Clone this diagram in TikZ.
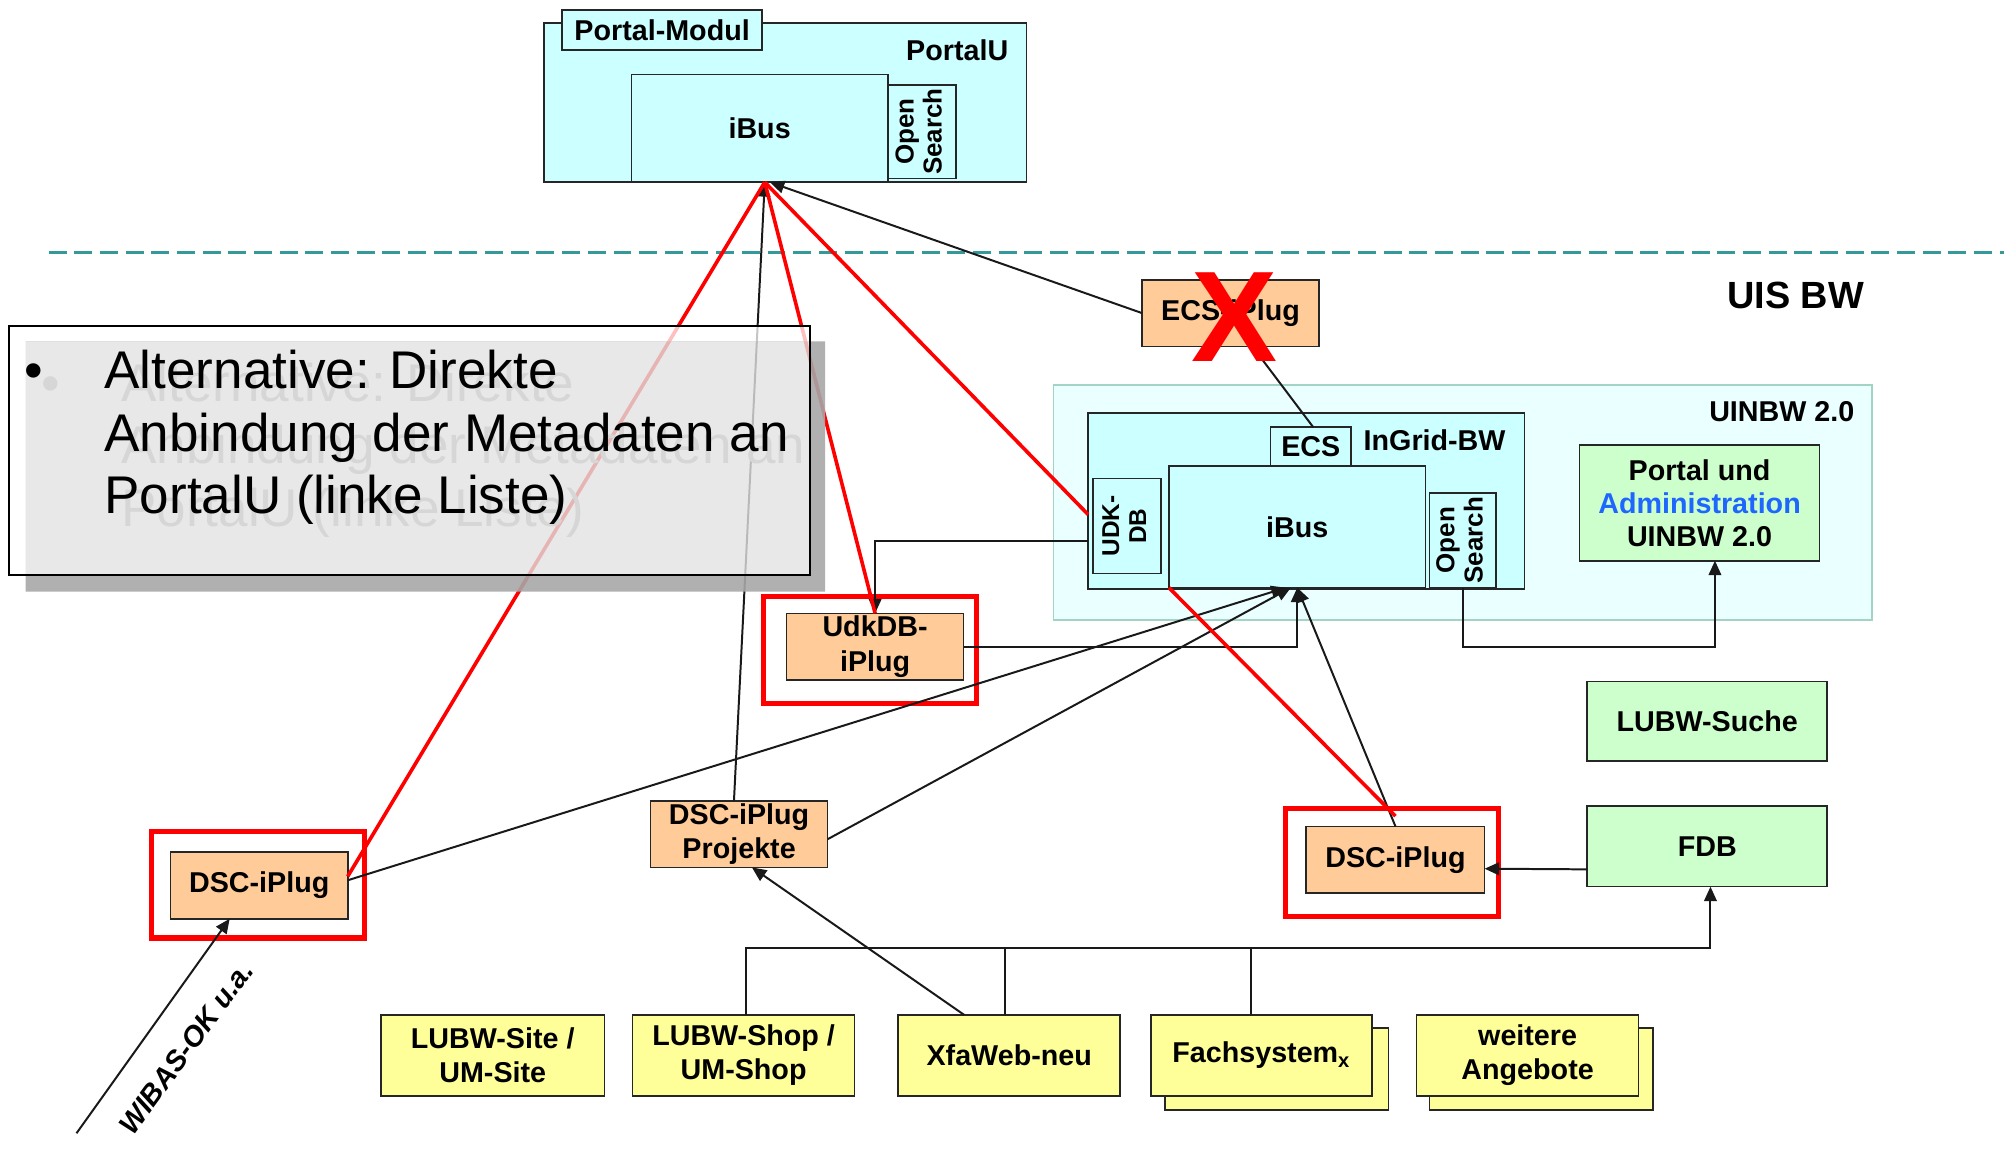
\documentclass[tikz,border=0pt]{standalone}
\usepackage{fontspec}
\setmainfont{Liberation Sans}
\usepackage{graphicx}
\usetikzlibrary{arrows.meta,calc}
\definecolor{cy}{HTML}{CCFFFF}
\definecolor{cyl}{HTML}{EAFFFF}
\definecolor{cyb}{HTML}{A3D3C3}
\definecolor{org}{HTML}{FFCC99}
\definecolor{grn}{HTML}{CCFFCC}
\definecolor{yel}{HTML}{FFFF99}
\definecolor{sepcol}{HTML}{339999}
\definecolor{admblue}{HTML}{1F66FF}
\definecolor{cgray}{HTML}{E2E2E2}
\definecolor{cdark}{HTML}{A7A7A7}
\definecolor{ghost}{HTML}{D6D6D6}
\newcommand\drawbox[7]{\node[#6, minimum width={(#4-#2)*0.025cm}, minimum height={(#5-#3)*0.025cm}] (#1) at ({(#2+#4)/2},{(#3+#5)/2}) {#7};}
\newcommand\vtext[3]{\rotatebox{90}{\fontsize{#1}{#2}\selectfont\begin{tabular}{@{}c@{}}#3\end{tabular}}}
\tikzset{
  boxbase/.style={draw=black!85, line width=0.9pt, inner sep=0pt, outer sep=0pt, align=center, font=\fontsize{15.9}{19}\selectfont\bfseries},
  cyanbox/.style={boxbase, fill=cy},
  orgbox/.style={boxbase, fill=org},
  grnbox/.style={boxbase, fill=grn},
  yelbox/.style={boxbase, fill=yel},
  outerbox/.style={draw=cyb, fill=cyl, line width=1pt, inner sep=0pt, outer sep=0pt},
  redframe/.style={draw=red, line width=2.8pt, inner sep=0pt, outer sep=0pt},
  conn/.style={draw=black!90, line width=1.1pt},
  arr/.style={conn, -{Triangle[length=8pt,width=7pt]}},
  redline/.style={draw=red, line width=2pt},
  sepline/.style={draw=sepcol, line width=1.8pt, dash pattern=on 0.35cm off 0.15cm},
  lbl/.style={inner sep=0pt, outer sep=0pt, font=\fontsize{15.9}{19}\selectfont\bfseries},
  ctext/.style={inner sep=0pt, outer sep=0pt, anchor=base west, font=\fontsize{29.4}{35}\selectfont},
  shx/.style={xshift={(#1)*0.025cm}},
  shy/.style={yshift={-(#1)*0.025cm}},
}
\begin{document}
\begin{tikzpicture}[x=0.025cm,y=-0.025cm]
\useasboundingbox (0,0) rectangle (1568,902);

% separator
\coordinate (dL) at (38,196.5);
\coordinate (dR) at (1562,196.5);
\draw[sepline] (dL) -- (dR);
\node[lbl, font=\fontsize{21}{25}\selectfont\bfseries] (uis) at (1399.4,230) {UIS BW};

% PortalU
\drawbox{portalu}{424}{18}{800}{142}{cyanbox}{}
\drawbox{modul}{438}{8}{594}{39}{cyanbox}{Portal-Modul}
\node[lbl] (portalulbl) at (746,39.5) {PortalU};
\drawbox{pib}{492}{58}{692}{142}{cyanbox}{iBus}
\drawbox{pos}{692}{66}{745}{139}{cyanbox}{\vtext{14.4}{15.6}{Open\\Search}}

% UINBW 2.0
\drawbox{uinbw}{821}{300}{1459}{483}{outerbox}{}
\node[lbl] (uinbwlbl) at (1388.6,321) {UINBW 2.0};
\drawbox{ingrid}{848}{322}{1188}{459}{cyanbox}{}
\node[lbl] (ingridlbl) at (1118,343) {InGrid-BW};
\drawbox{ecs}{990}{333}{1053}{363}{cyanbox}{ECS}
\drawbox{ib2}{911}{363}{1111}{458}{cyanbox}{iBus}
\drawbox{udkdb}{852}{373}{905}{447}{cyanbox}{\vtext{13.5}{14.9}{UDK-\\DB}}
\drawbox{os2}{1114}{384}{1166}{458}{cyanbox}{\vtext{14.4}{15.6}{Open\\Search}}
\drawbox{adm}{1231}{347}{1418}{437}{grnbox, font=\fontsize{15.9}{18.4}\selectfont\bfseries}{Portal und\\\textcolor{admblue}{Administration}\\UINBW 2.0}

% plugs
\drawbox{ecsp}{890}{218}{1028}{270}{orgbox}{ECS-iPlug}
\drawbox{udk}{613}{478}{751}{530}{orgbox}{UdkDB-\\iPlug}
\drawbox{udkf}{595}{465}{761}{548}{redframe}{}
\drawbox{proj}{507}{624}{645}{676}{orgbox}{DSC-iPlug\\Projekte}
\drawbox{dscl}{133}{664}{271}{716}{orgbox}{DSC-iPlug}
\drawbox{dsclf}{118}{648}{284}{731}{redframe}{}
\drawbox{dscr}{1018}{644}{1157}{696}{orgbox}{DSC-iPlug}
\drawbox{dscrf}{1002}{630}{1168}{714}{redframe}{}

% green
\drawbox{suche}{1237}{531}{1424}{593}{grnbox}{LUBW-Suche}
\drawbox{fdb}{1237}{628}{1424}{691}{grnbox}{FDB}

% yellow
\drawbox{lsite}{297}{791}{471}{854}{yelbox}{LUBW-Site /\\UM-Site}
\drawbox{lshop}{493}{791}{666}{854}{yelbox}{LUBW-Shop /\\UM-Shop}
\drawbox{xfa}{700}{791}{873}{854}{yelbox}{XfaWeb-neu}
\drawbox{fachs}{908}{801}{1082}{865}{yelbox}{}
\drawbox{fach}{897}{791}{1069}{854}{yelbox}{Fachsystem\textsubscript{x}}
\drawbox{weis}{1114}{801}{1288}{865}{yelbox}{}
\drawbox{wei}{1104}{791}{1277}{854}{yelbox}{weitere\\Angebote}

% connectors to PortalU iBus
\draw[arr] ([shx=-4]proj.north) -- ([shx=4]pib.south);
\draw[arr] (ecsp.west) -- ([shx=8]pib.south);
\draw[conn] ([shx=17]ecsp.south) -- ([shx=2]ecs.north);

% connectors to InGrid iBus
\draw[arr] ([shy=-4]dscl.east) -- ([shx=-9]ib2.south);
\draw[arr] ([shy=4]proj.east) -- ([shx=-5]ib2.south);
\draw[arr] (udk.east) -| (ib2.south);
\draw[arr] (dscr.north) -- (ib2.south);
\draw[arr] ([shy=31]ingrid.west) -| (udk.north);
\draw[arr] (os2.south) -- (os2.south |- udk.east) -| ([shx=12]adm.south);
\draw[arr] ([shy=18]fdb.west) -- ([shy=7]dscr.east);

% bus
\coordinate (bus) at (0,739);
\draw[arr] ([shx=2]lshop.north) -- ([shx=2]lshop.north |- bus) -| ([shx=2.5]fdb.south);
\draw[conn] ([shx=-3]xfa.north) -- ([shx=-3]xfa.north |- bus);
\draw[conn] ([shx=-8]fach.north) -- ([shx=-8]fach.north |- bus);
\draw[arr] ([shx=-35]xfa.north) -- ([shx=10]proj.south);

% WIBAS
\coordinate (wib) at (59.6,883.2);
\draw[arr] (wib) -- ([shx=-23]dscl.south);
\node[lbl, font=\fontsize{15.9}{19}\selectfont\bfseries\itshape, rotate=53.7] (wibl) at (145,816.5) {WIBAS-OK u.a.};

% red lines
\draw[redline] ([shy=-7]dscl.east) -- ([shx=4]pib.south);
\draw[redline] ([shx=4]pib.south) -- (udk.north);
\draw[redline] ([shx=4]pib.south) -- ([shy=10.5]ingrid.west);
\draw[redline] (ib2.south west) -- ([shy=-8]dscr.north);

% red X
\node[inner sep=0pt, text=red, font=\fontsize{71.5}{72}\selectfont\bfseries] (xmark) at (962,247) {X};

% callout
\fill[white, fill opacity=0.75, even odd rule] (7,254) rectangle (631,448) (20,266) rectangle (631,448);
\fill[cgray, fill opacity=0.8] (20,266) rectangle (631,448);
\fill[cdark, fill opacity=0.9, even odd rule] (20,266) rectangle (643,461) (20,266) rectangle (631,448);
\drawbox{callout}{7}{254}{631}{448}{draw=black, line width=1pt, inner sep=0pt}{}
\node[ctext, text=ghost] (g0) at (32,313) {•};
\node[ctext, text=ghost] (g1) at (94.5,313) {Alternative: Direkte};
\node[ctext, text=ghost] (g2) at (94.5,361.5) {Anbindung der Metadaten an};
\node[ctext, text=ghost] (g3) at (94.5,410) {PortalU (linke Liste)};
\node[ctext] (t0) at (19,303) {•};
\node[ctext] (t1) at (81.5,303) {Alternative: Direkte};
\node[ctext] (t2) at (81.5,351.5) {Anbindung der Metadaten an};
\node[ctext] (t3) at (81.5,400) {PortalU (linke Liste)};
\end{tikzpicture}
\end{document}
